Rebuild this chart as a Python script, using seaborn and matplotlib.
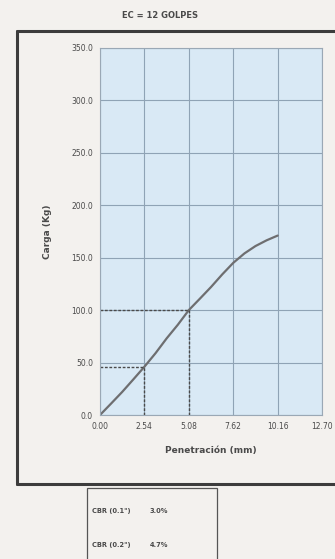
import matplotlib
matplotlib.use("Agg")
import matplotlib.pyplot as plt
import seaborn as sns
import pandas as pd
from matplotlib.patches import Rectangle
from matplotlib.lines import Line2D

# Curva carga-penetracion (EC = 12 golpes)
penetracion = [0.00, 0.64, 1.27, 1.91, 2.54, 3.18, 3.81, 4.45, 5.08, 5.72,
               6.35, 6.99, 7.62, 8.26, 8.89, 9.53, 10.16]
carga = [0.0, 11.0, 22.0, 34.0, 46.0, 59.0, 73.0, 86.0, 100.0, 111.0,
         122.0, 134.0, 145.0, 154.0, 161.0, 166.5, 171.0]

x_ticks = [0.00, 2.54, 5.08, 7.62, 10.16, 12.70]
y_ticks = [0, 50, 100, 150, 200, 250, 300, 350]

# lecturas de CBR a 0.1" y 0.2"
pen_ref = [2.54, 5.08]
carga_ref = [46.0, 100.0]
cbr_labels = ['CBR (0.1")', 'CBR (0.2")']
cbr_values = ['3.0%', '4.7%']

df = pd.DataFrame({"pen": penetracion, "carga": carga})

sns.set_theme(style="white")
plt.rcParams['font.family'] = ['DejaVu Sans']
txt = '#4a4a4a'

fig = plt.figure(figsize=(3.35, 5.59), dpi=100)
fig.patch.set_facecolor('#f3f1ee')
ax = fig.add_axes([0.2985, 0.2576, 0.663, 0.657])
ax.set_facecolor('#d9e9f5')

sns.lineplot(data=df, x="pen", y="carga", ax=ax, color='#6e6e70', lw=1.6)

for xr, yr in zip(pen_ref, carga_ref):
    ax.plot([0, xr], [yr, yr], ls=(0, (2, 1.2)), color='#4a4a4a', lw=1.0)
    ax.plot([xr, xr], [0, yr], ls=(0, (2, 1.2)), color='#4a4a4a', lw=1.0)

ax.set_xlim(0, 12.70)
ax.set_ylim(0, 350)
ax.set_xticks(x_ticks)
ax.set_xticklabels([f"{v:.2f}" for v in x_ticks])
ax.set_yticks(y_ticks)
ax.set_yticklabels([f"{v:.1f}" for v in y_ticks])
ax.grid(True, color='#8fa3b5', lw=0.8)
ax.tick_params(labelsize=5.5, colors=txt, length=2, pad=3)
for s in ax.spines.values():
    s.set_color('#9aa8b5')
    s.set_linewidth(0.8)

ax.set_xlabel('Penetración (mm)', fontsize=6.5, color=txt, fontweight='bold', labelpad=11)
ax.set_ylabel('Carga (Kg)', fontsize=6.5, color=txt, fontweight='bold', labelpad=14)
fig.text(0.478, 0.972, 'EC = 12 GOLPES', fontsize=6, color=txt, fontweight='bold',
         ha='center', va='center')

# marco del formato
fig.add_artist(Line2D([17 / 335, 1.0], [1 - 31 / 559] * 2, color='#3c3c3c', lw=2.2))
fig.add_artist(Line2D([17 / 335] * 2, [1 - 31 / 559, 1 - 484 / 559], color='#3c3c3c', lw=2.2))
fig.add_artist(Line2D([17 / 335, 1.0], [1 - 484 / 559] * 2, color='#3c3c3c', lw=2.2))

# tabla CBR
fig.add_artist(Rectangle((87 / 335, -0.02), 130 / 335, 0.02 + (559 - 488) / 559,
                         fill=False, ec='#555555', lw=0.9))
for i, (lab, val) in enumerate(zip(cbr_labels, cbr_values)):
    yy = 1 - (511 + 34 * i) / 559
    fig.text(92 / 335, yy, lab, fontsize=4.8, color=txt, fontweight='bold', va='center')
    fig.text(150 / 335, yy, val, fontsize=4.8, color=txt, fontweight='bold', va='center')

plt.savefig('out.png', dpi=100, facecolor=fig.get_facecolor())
